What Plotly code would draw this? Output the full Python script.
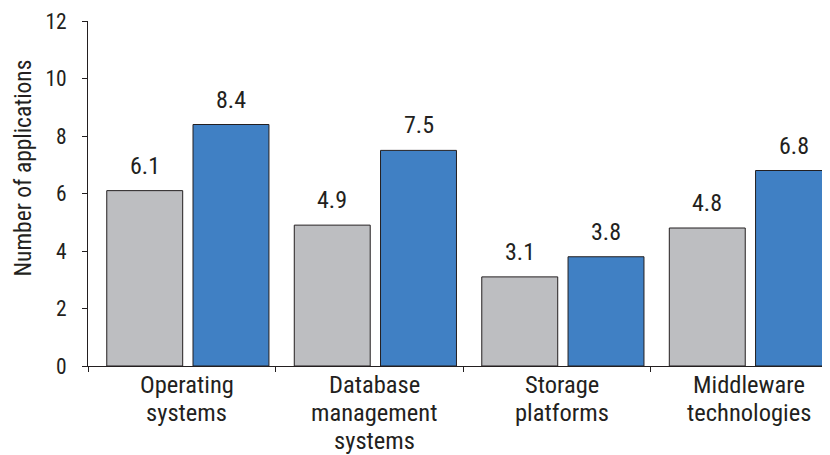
import plotly.graph_objects as go

category_lines = [
    ["Operating", "systems"],
    ["Database", "management", "systems"],
    ["Storage", "platforms"],
    ["Middleware", "technologies"],
]
categories = [" ".join(c) for c in category_lines]
series_a = [6.1, 4.9, 3.1, 4.8]
series_b = [8.4, 7.5, 3.8, 6.8]
y_ticks = [0, 2, 4, 6, 8, 10, 12]
y_title = "Number of applications"

FONT = "Roboto Condensed, Liberation Sans Narrow, DejaVu Sans Condensed, sans-serif"
INK = "#231F20"

# page body has an 8px default margin; figure sized to fit the 830x455 window
BODY = 8
W, H = 830 - BODY, 455 - BODY
ML, MT, MB = 88 - BODY, 21 - BODY, 89
PH = H - MT - MB            # plot height in px
PLOT_BOTTOM = MT + PH + BODY  # screen y of plot bottom
PW = W - ML

BAR_W = 0.405
series = [
    (series_a, "#BDBEC1", -0.40),
    (series_b, "#4080C4", 0.06),
]

fig = go.Figure()
annotations = []
for vals, color, off in series:
    fig.add_trace(go.Bar(
        x=categories, y=vals, width=BAR_W, offset=off,
        marker=dict(color=color, line=dict(color=INK, width=1)),
        hoverinfo="x+y",
    ))
    for i, v in enumerate(vals):
        annotations.append(dict(
            text=f"{v:.1f}", x=i + off + BAR_W / 2, xref="x", y=v, yref="y",
            yanchor="middle", xanchor="center", yshift=25, showarrow=False,
            font=dict(size=24, family=FONT, color=INK),
        ))

line_gap = 28.3
first_mid = 384.0
for ci, lines in enumerate(category_lines):
    for li, txt in enumerate(lines):
        py = first_mid + li * line_gap
        annotations.append(dict(
            text=txt, x=categories[ci], xref="x", xshift=5,
            y=(PLOT_BOTTOM - py) / PH, yref="paper", yanchor="middle", xanchor="center",
            showarrow=False, font=dict(size=24.5, family=FONT, color=INK),
        ))
annotations.append(dict(
    text=y_title, textangle=-90, showarrow=False,
    xref="paper", yref="paper", x=-(ML + BODY - 22) / PW, y=(PLOT_BOTTOM - 168.5) / PH,
    xanchor="center", yanchor="middle",
    font=dict(size=23.5, family=FONT, color=INK),
))

fig.update_layout(
    width=W, height=H,
    margin=dict(l=ML, r=0, t=MT, b=MB, autoexpand=False),
    paper_bgcolor="white", plot_bgcolor="white",
    showlegend=False, barmode="overlay",
    font=dict(family=FONT, color=INK, size=21),
    xaxis=dict(
        range=[-0.5, 3.457], tickson="boundaries", ticks="outside", ticklen=5,
        tickcolor=INK, showline=True, linecolor=INK, linewidth=1,
        showgrid=False, showticklabels=False, automargin=False,
    ),
    yaxis=dict(
        range=[0, 12], tickvals=y_ticks, ticks="outside", ticklen=5,
        tickcolor=INK, showline=True, linecolor=INK, linewidth=1,
        showgrid=False, zeroline=False, ticklabelstandoff=11, automargin=False,
        tickfont=dict(size=21.5, family=FONT, color=INK),
    ),
    annotations=annotations,
)

fig.write_html("out.html")
